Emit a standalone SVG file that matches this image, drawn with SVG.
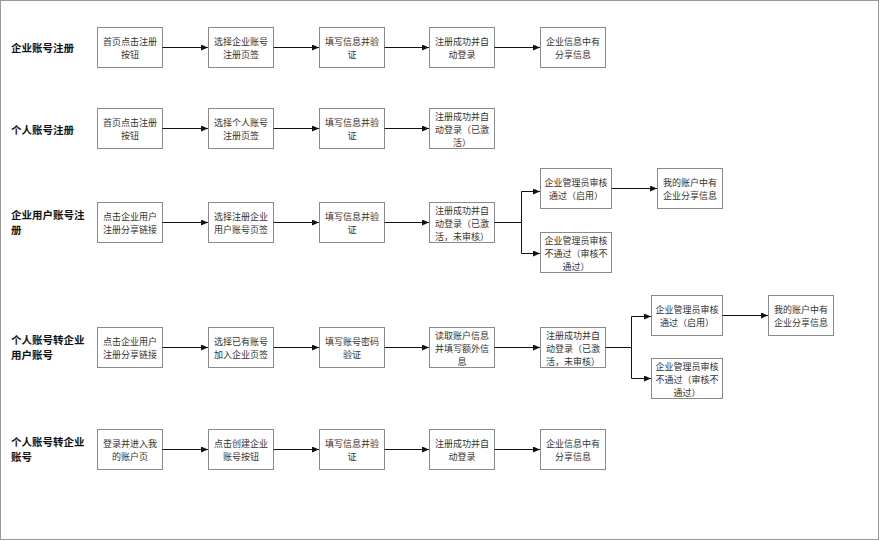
<svg xmlns="http://www.w3.org/2000/svg" width="879" height="541" viewBox="0 0 879 541">
<defs>
<style>
.frame{fill:#fff;stroke:#999;stroke-width:1}
.box{fill:#fff;stroke:#8a8a8a;stroke-width:1}
.t{font-family:"Noto Sans CJK SC","Noto Sans",sans-serif;font-size:9px;fill:#333;text-anchor:middle}
.title{font-family:"Noto Sans CJK SC","Noto Sans",sans-serif;font-size:10.5px;font-weight:bold;fill:#111}
.ln{fill:none;stroke:#111;stroke-width:1}
.ar{fill:none;stroke:#111;stroke-width:1;marker-end:url(#ah)}
</style>
<marker id="ah" markerUnits="userSpaceOnUse" markerWidth="8" markerHeight="7" refX="7" refY="3" orient="auto">
<path d="M0,0 L7,3 L0,6 z" fill="#111"/>
</marker>
</defs>
<rect class="frame" x="0.5" y="0.5" width="878" height="539"/>

<g id="titles">
<text class="title" x="11" y="52">企业账号注册</text>
<text class="title" x="11" y="134">个人账号注册</text>
<text class="title" x="11" y="219">企业用户账号注</text>
<text class="title" x="11" y="234">册</text>
<text class="title" x="11" y="344">个人账号转企业</text>
<text class="title" x="11" y="359">用户账号</text>
<text class="title" x="11" y="446">个人账号转企业</text>
<text class="title" x="11" y="461">账号</text>
</g>

<!-- Row 1 -->
<g id="r1n1"><rect class="box" x="97.5" y="27.5" width="65" height="40"/><text class="t" x="130" y="44.5">首页点击注册</text><text class="t" x="130" y="57.5">按钮</text></g>
<g id="r1n2"><rect class="box" x="208.5" y="27.5" width="65" height="40"/><text class="t" x="241" y="44.5">选择企业账号</text><text class="t" x="241" y="57.5">注册页签</text></g>
<g id="r1n3"><rect class="box" x="319.5" y="27.5" width="65" height="40"/><text class="t" x="352" y="44.5">填写信息并验</text><text class="t" x="352" y="57.5">证</text></g>
<g id="r1n4"><rect class="box" x="429.5" y="27.5" width="65" height="40"/><text class="t" x="462" y="44.5">注册成功并自</text><text class="t" x="462" y="57.5">动登录</text></g>
<g id="r1n5"><rect class="box" x="540.5" y="27.5" width="65" height="40"/><text class="t" x="573" y="44.5">企业信息中有</text><text class="t" x="573" y="57.5">分享信息</text></g>

<!-- Row 2 -->
<g id="r2n1"><rect class="box" x="97.5" y="108.5" width="65" height="40"/><text class="t" x="130" y="125.5">首页点击注册</text><text class="t" x="130" y="138.5">按钮</text></g>
<g id="r2n2"><rect class="box" x="208.5" y="108.5" width="65" height="40"/><text class="t" x="241" y="125.5">选择个人账号</text><text class="t" x="241" y="138.5">注册页签</text></g>
<g id="r2n3"><rect class="box" x="319.5" y="108.5" width="65" height="40"/><text class="t" x="352" y="125.5">填写信息并验</text><text class="t" x="352" y="138.5">证</text></g>
<g id="r2n4"><rect class="box" x="429.5" y="108.5" width="65" height="40"/><text class="t" x="462" y="120">注册成功并自</text><text class="t" x="462" y="133.3">动登录（已激</text><text class="t" x="462" y="146">活）</text></g>

<!-- Row 3 -->
<g id="r3n1"><rect class="box" x="97.5" y="202.5" width="65" height="40"/><text class="t" x="130" y="219.5">点击企业用户</text><text class="t" x="130" y="232.5">注册分享链接</text></g>
<g id="r3n2"><rect class="box" x="208.5" y="202.5" width="65" height="40"/><text class="t" x="241" y="219.5">选择注册企业</text><text class="t" x="241" y="232.5">用户账号页签</text></g>
<g id="r3n3"><rect class="box" x="319.5" y="202.5" width="65" height="40"/><text class="t" x="352" y="219.5">填写信息并验</text><text class="t" x="352" y="232.5">证</text></g>
<g id="r3n4"><rect class="box" x="429.5" y="202.5" width="65" height="40"/><text class="t" x="462" y="214">注册成功并自</text><text class="t" x="462" y="227.3">动登录（已激</text><text class="t" x="462" y="240">活，未审核）</text></g>
<g id="r3n5"><rect class="box" x="540.5" y="168.5" width="71" height="40"/><text class="t" x="576" y="185.5">企业管理员审核</text><text class="t" x="576" y="198.5">通过（启用）</text></g>
<g id="r3n6"><rect class="box" x="540.5" y="232.5" width="71" height="40"/><text class="t" x="576" y="244">企业管理员审核</text><text class="t" x="576" y="257.3">不通过（审核不</text><text class="t" x="576" y="270">通过）</text></g>
<g id="r3n7"><rect class="box" x="657.5" y="168.5" width="65" height="40"/><text class="t" x="690" y="185.5">我的账户中有</text><text class="t" x="690" y="198.5">企业分享信息</text></g>

<!-- Row 4 -->
<g id="r4n1"><rect class="box" x="97.5" y="327.5" width="65" height="40"/><text class="t" x="130" y="344.5">点击企业用户</text><text class="t" x="130" y="357.5">注册分享链接</text></g>
<g id="r4n2"><rect class="box" x="208.5" y="327.5" width="65" height="40"/><text class="t" x="241" y="344.5">选择已有账号</text><text class="t" x="241" y="357.5">加入企业页签</text></g>
<g id="r4n3"><rect class="box" x="319.5" y="327.5" width="65" height="40"/><text class="t" x="352" y="344.5">填写账号密码</text><text class="t" x="352" y="357.5">验证</text></g>
<g id="r4n4"><rect class="box" x="429.5" y="327.5" width="65" height="40"/><text class="t" x="462" y="339">读取账户信息</text><text class="t" x="462" y="352.3">并填写额外信</text><text class="t" x="462" y="365">息</text></g>
<g id="r4n5"><rect class="box" x="540.5" y="327.5" width="65" height="40"/><text class="t" x="573" y="339">注册成功并自</text><text class="t" x="573" y="352.3">动登录（已激</text><text class="t" x="573" y="365">活，未审核）</text></g>
<g id="r4n6"><rect class="box" x="651.5" y="295.5" width="71" height="40"/><text class="t" x="687" y="312.5">企业管理员审核</text><text class="t" x="687" y="325.5">通过（启用）</text></g>
<g id="r4n7"><rect class="box" x="651.5" y="358.5" width="71" height="40"/><text class="t" x="687" y="370">企业管理员审核</text><text class="t" x="687" y="383.3">不通过（审核不</text><text class="t" x="687" y="396">通过）</text></g>
<g id="r4n8"><rect class="box" x="768.5" y="295.5" width="65" height="40"/><text class="t" x="801" y="312.5">我的账户中有</text><text class="t" x="801" y="325.5">企业分享信息</text></g>

<!-- Row 5 -->
<g id="r5n1"><rect class="box" x="97.5" y="429.5" width="65" height="40"/><text class="t" x="130" y="446.5">登录并进入我</text><text class="t" x="130" y="459.5">的账户页</text></g>
<g id="r5n2"><rect class="box" x="208.5" y="429.5" width="65" height="40"/><text class="t" x="241" y="446.5">点击创建企业</text><text class="t" x="241" y="459.5">账号按钮</text></g>
<g id="r5n3"><rect class="box" x="319.5" y="429.5" width="65" height="40"/><text class="t" x="352" y="446.5">填写信息并验</text><text class="t" x="352" y="459.5">证</text></g>
<g id="r5n4"><rect class="box" x="429.5" y="429.5" width="65" height="40"/><text class="t" x="462" y="446.5">注册成功并自</text><text class="t" x="462" y="459.5">动登录</text></g>
<g id="r5n5"><rect class="box" x="540.5" y="429.5" width="65" height="40"/><text class="t" x="573" y="446.5">企业信息中有</text><text class="t" x="573" y="459.5">分享信息</text></g>

<g id="connectors">
<path class="ar" d="M162.5,47.5 H208"/>
<path class="ar" d="M273.5,47.5 H319"/>
<path class="ar" d="M384.5,47.5 H429"/>
<path class="ar" d="M494.5,47.5 H540"/>

<path class="ar" d="M162.5,128.5 H208"/>
<path class="ar" d="M273.5,128.5 H319"/>
<path class="ar" d="M384.5,128.5 H429"/>

<path class="ar" d="M162.5,222.5 H208"/>
<path class="ar" d="M273.5,222.5 H319"/>
<path class="ar" d="M384.5,222.5 H429"/>
<path class="ln" d="M494.5,222.5 H521.5"/>
<path class="ar" d="M521.5,222.5 V191.5 H540"/>
<path class="ar" d="M521.5,222.5 V253.5 H540"/>
<path class="ar" d="M611.5,188.5 H657"/>

<path class="ar" d="M162.5,347.5 H208"/>
<path class="ar" d="M273.5,347.5 H319"/>
<path class="ar" d="M384.5,347.5 H429"/>
<path class="ar" d="M494.5,347.5 H540"/>
<path class="ln" d="M605.5,347.5 H631.5"/>
<path class="ar" d="M631.5,347.5 V316.5 H651"/>
<path class="ar" d="M631.5,347.5 V378.5 H651"/>
<path class="ar" d="M722.5,315.5 H768"/>

<path class="ar" d="M162.5,449.5 H208"/>
<path class="ar" d="M273.5,449.5 H319"/>
<path class="ar" d="M384.5,449.5 H429"/>
<path class="ar" d="M494.5,449.5 H540"/>
</g>
</svg>
